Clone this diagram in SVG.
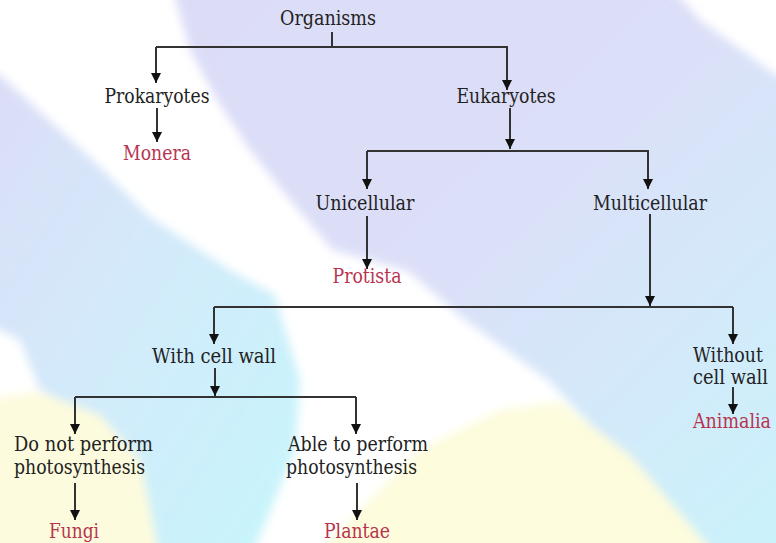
<svg xmlns="http://www.w3.org/2000/svg" width="776" height="543" viewBox="0 0 776 543">
<defs>
<style>
text{font-family:'DejaVu Serif','Liberation Serif',serif;font-size:20px}
.t{fill:#222}
.r{fill:#b83350}
.c{text-anchor:middle}
.ln{fill:none;stroke:#333;stroke-width:2}
.ar{fill:none;stroke:#333;stroke-width:2;marker-end:url(#ah)}
</style>
<marker id="ah" markerUnits="userSpaceOnUse" markerWidth="10" markerHeight="10" refX="10" refY="5" orient="auto" viewBox="0 0 10 10">
<path d="M0,0 L10,5 L0,10 z" fill="#111"/>
</marker>
<linearGradient id="g1" x1="0" y1="0" x2="1" y2="1">
<stop offset="0" stop-color="#dcdcf7"/>
<stop offset="0.45" stop-color="#dcdff8"/>
<stop offset="1" stop-color="#c9f4fb"/>
</linearGradient>
<linearGradient id="g2" x1="0" y1="0" x2="1" y2="1">
<stop offset="0" stop-color="#dcdcf7"/>
<stop offset="0.5" stop-color="#d2ebfa"/>
<stop offset="1" stop-color="#c6f6fb"/>
</linearGradient>
<filter id="bl" x="-10%" y="-10%" width="120%" height="120%">
<feGaussianBlur stdDeviation="5"/>
</filter>
</defs>
<g id="background">
<rect width="776" height="543" fill="#ffffff"/>
<g filter="url(#bl)">
<polygon points="170,-20 665,-20 700,20 776,75 800,85 800,560 720,560 548,380 465,320 408,271 333,250 290,200 250,150 217,100 190,50" fill="url(#g1)"/>
<polygon points="-20,70 0,75 100,167 150,217 233,272 275,295 300,380 295,450 250,560 150,560 120,450 70,405 40,390 20,340 -20,320" fill="url(#g2)"/>
<polygon points="-20,400 40,392 100,415 140,460 160,560 -20,560" fill="#fdfbdd"/>
<polygon points="310,560 420,450 500,410 560,402 630,455 720,560" fill="#fdfcdd"/>
</g>
</g>
<g id="connectors">
<path class="ln" d="M332,32 V47 M156,47 H508"/>
<path class="ar" d="M156,47 V83"/>
<path class="ar" d="M507,47 V90"/>
<path class="ar" d="M157,108 V142"/>
<path class="ar" d="M510,108 V149"/>
<path class="ln" d="M367,151 H649"/>
<path class="ar" d="M367,151 V189"/>
<path class="ar" d="M648,151 V189"/>
<path class="ar" d="M367,216 V269"/>
<path class="ar" d="M650,214 V306"/>
<path class="ln" d="M214,307 H733"/>
<path class="ar" d="M214,307 V344"/>
<path class="ar" d="M733,307 V344"/>
<path class="ar" d="M215,368 V396"/>
<path class="ln" d="M75,397 H356"/>
<path class="ar" d="M75,397 V434"/>
<path class="ar" d="M356,397 V434"/>
<path class="ar" d="M75,483 V520"/>
<path class="ar" d="M357,483 V520"/>
<path class="ar" d="M733,387 V414"/>
</g>
<g id="organisms"><text class="t c" x="328" y="25" textLength="96" lengthAdjust="spacingAndGlyphs">Organisms</text></g>
<g id="prokaryotes"><text class="t c" x="157" y="103" textLength="105" lengthAdjust="spacingAndGlyphs">Prokaryotes</text></g>
<g id="eukaryotes"><text class="t c" x="506" y="103" textLength="99" lengthAdjust="spacingAndGlyphs">Eukaryotes</text></g>
<g id="monera"><text class="r c" x="157" y="160" textLength="68" lengthAdjust="spacingAndGlyphs">Monera</text></g>
<g id="unicellular"><text class="t c" x="365" y="210" textLength="99" lengthAdjust="spacingAndGlyphs">Unicellular</text></g>
<g id="multicellular"><text class="t c" x="650" y="210" textLength="114" lengthAdjust="spacingAndGlyphs">Multicellular</text></g>
<g id="protista"><text class="r c" x="367" y="283" textLength="69" lengthAdjust="spacingAndGlyphs">Protista</text></g>
<g id="with-cell-wall"><text class="t c" x="214" y="363" textLength="124" lengthAdjust="spacingAndGlyphs">With cell wall</text></g>
<g id="without-cell-wall"><text class="t" x="693" y="362" textLength="70" lengthAdjust="spacingAndGlyphs">Without</text><text class="t" x="693" y="384" textLength="75" lengthAdjust="spacingAndGlyphs">cell wall</text></g>
<g id="animalia"><text class="r" x="693" y="428" textLength="78" lengthAdjust="spacingAndGlyphs">Animalia</text></g>
<g id="no-photosynthesis"><text class="t" x="14" y="451" textLength="139" lengthAdjust="spacingAndGlyphs">Do not perform</text><text class="t" x="14" y="474" textLength="131" lengthAdjust="spacingAndGlyphs">photosynthesis</text></g>
<g id="photosynthesis"><text class="t" x="288" y="451" textLength="140" lengthAdjust="spacingAndGlyphs">Able to perform</text><text class="t" x="286" y="474" textLength="131" lengthAdjust="spacingAndGlyphs">photosynthesis</text></g>
<g id="fungi"><text class="r c" x="74" y="538" textLength="50" lengthAdjust="spacingAndGlyphs">Fungi</text></g>
<g id="plantae"><text class="r c" x="357" y="538" textLength="66" lengthAdjust="spacingAndGlyphs">Plantae</text></g>
</svg>
